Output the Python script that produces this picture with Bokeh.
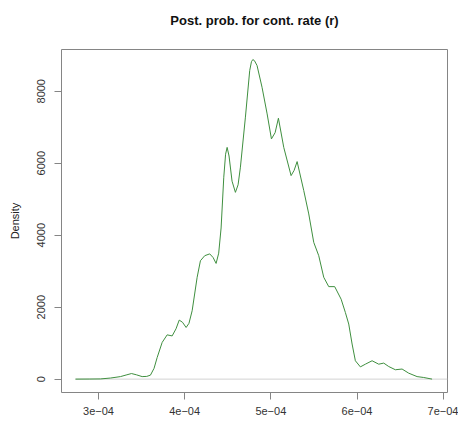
from bokeh.plotting import figure
from bokeh.models import Range1d, FixedTicker, Title
from bokeh.embed import file_html
from bokeh.resources import INLINE

# contamination rate (units of 1e-4) and posterior density
rate_e4 = [2.733, 2.90, 3.023, 3.14, 3.255, 3.33, 3.383, 3.44, 3.507, 3.56, 3.603,
           3.645, 3.681, 3.739, 3.797, 3.855, 3.90, 3.937, 3.975, 4.017, 4.05,
           4.087, 4.145, 4.183, 4.233, 4.291, 4.33, 4.365, 4.395, 4.423, 4.454,
           4.475, 4.493, 4.515, 4.55, 4.589, 4.62, 4.647, 4.705, 4.755, 4.775, 4.791,
           4.81, 4.840, 4.898, 4.957, 5.007, 5.05, 5.088, 5.150, 5.235, 5.27, 5.305,
           5.382, 5.440, 5.498, 5.556, 5.614, 5.672, 5.741, 5.816, 5.865, 5.904,
           5.943, 5.981, 6.039, 6.097, 6.175, 6.252, 6.310, 6.368, 6.445, 6.523,
           6.600, 6.697, 6.774, 6.871]
density = [0, 2, 5, 30, 70, 120, 155, 120, 70, 75, 110,
           300, 600, 1020, 1230, 1200, 1400, 1640, 1580, 1435, 1550,
           1900, 2830, 3290, 3430, 3480, 3380, 3215, 3500, 4200, 5610,
           6250, 6440, 6200, 5500, 5190, 5400, 5890, 7280, 8575, 8820, 8880,
           8850, 8715, 8110, 7370, 6675, 6850, 7250, 6440, 5655, 5800, 6045,
           5240, 4590, 3800, 3430, 2830, 2570, 2570, 2220, 1850, 1530,
           975, 510, 340, 415, 510, 415, 445, 350, 260, 280,
           165, 70, 45, 0]
rate = [r * 1e-4 for r in rate_e4]

title_text = "Post. prob. for cont. rate (r)"
x_ticks = [3e-4, 4e-4, 5e-4, 6e-4, 7e-4]
x_tick_labels = ["3e\u221204", "4e\u221204", "5e\u221204", "6e\u221204", "7e\u221204"]
y_ticks = [0, 2000, 4000, 6000, 8000]
y_tick_labels = ["0", "2000", "4000", "6000", "8000"]

FONT = "Liberation Sans"
GRAY = "#858585"

p = figure(width=458, height=435, output_backend="svg", toolbar_location=None,
           x_range=Range1d(2.571e-4, 7.05e-4), y_range=Range1d(-372, 9160),
           min_border_left=61, min_border_right=11, min_border_top=49,
           min_border_bottom=43)
p.grid.visible = False
p.background_fill_color = "white"
p.border_fill_color = "white"
p.outline_line_color = GRAY
p.outline_line_width = 1

# spacer between frame and title (nearest the frame), then the title itself
p.add_layout(Title(text=" ", text_font=FONT, text_font_size="13px", standoff=0), "above")
p.title.text = title_text
p.title.align = "center"
p.title.text_font = FONT
p.title.text_font_size = "13px"
p.title.text_font_style = "bold"
p.title.text_color = "#111111"
p.title.standoff = 9

# zero line
p.segment(x0=[rate[0]], y0=[0], x1=[p.x_range.end], y1=[0],
          line_color="#d2d2d2", line_width=1)
p.line(rate, density, line_color="#3f8f3f", line_width=1)

xa = p.xaxis[0]
xa.ticker = FixedTicker(ticks=x_ticks)
xa.major_label_overrides = {t: l for t, l in zip(x_ticks, x_tick_labels)}
ya = p.yaxis[0]
ya.ticker = FixedTicker(ticks=y_ticks)
ya.major_label_overrides = {t: l for t, l in zip(y_ticks, y_tick_labels)}
ya.major_label_orientation = "vertical"
ya.axis_label = "Density"

for ax in (xa, ya):
    ax.axis_line_color = None
    ax.major_tick_line_color = GRAY
    ax.major_tick_out = 7
    ax.major_tick_in = 0
    ax.minor_tick_line_color = None
    ax.major_label_text_font = FONT
    ax.major_label_text_font_size = "11px"
    ax.major_label_text_color = "#333333"
    ax.axis_label_text_font = FONT
    ax.axis_label_text_font_size = "11px"
    ax.axis_label_text_font_style = "normal"
    ax.axis_label_text_color = "#222222"

xa.major_label_standoff = 7
ya.major_label_standoff = 9
ya.axis_label_standoff = 14

open("out.html", "w").write(file_html(p, INLINE))
